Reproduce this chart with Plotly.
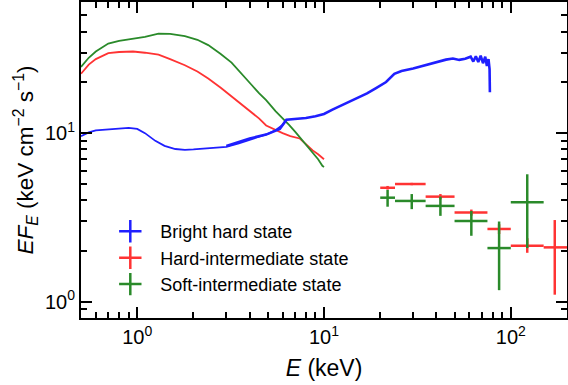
import math
import plotly.graph_objects as go

# ---------------- data ----------------
# Bright hard state: soft X-ray curve
bh_soft_E = [0.50, 0.55, 0.60, 0.70, 0.80, 0.90, 1.00, 1.10, 1.25, 1.40, 1.60, 1.80, 2.0, 2.3, 2.7,
             3.0, 3.5, 4.0, 4.5, 5.0, 5.5, 6.0, 6.3]
bh_soft_F = [9.6, 10.1, 10.4, 10.55, 10.6, 10.75, 10.6, 10.0, 9.0, 8.4, 8.05, 7.95, 8.0, 8.1, 8.2,
             8.3, 8.7, 9.1, 9.5, 9.9, 10.4, 11.2, 12.1]
# Bright hard state: hard X-ray points
bh_hard_E = [3.0, 3.5, 4.0, 4.9, 5.8, 6.3, 7.0, 8.0, 9.0, 10.0, 11.1, 13.0, 15.0, 17.0, 19.0, 21.5,
             23.8, 26.0, 30.0, 35.0, 41.0, 45.0, 49.0, 53.0, 57.0, 61.0, 63.0, 65.0, 67.0, 69.0,
             71.0, 73.0, 74.5, 76.0, 77.0, 77.3]
bh_hard_F = [8.4, 8.9, 9.3, 9.8, 10.6, 12.0, 12.1, 12.3, 12.6, 13.0, 13.8, 15.0, 16.2, 17.2, 18.5, 20.1,
             22.5, 23.4, 24.2, 25.3, 26.6, 27.3, 27.7, 27.2, 27.6, 28.4, 26.6, 28.6, 26.4, 28.8,
             26.0, 28.4, 25.0, 27.5, 24.0, 17.5]

# Hard-intermediate state: soft X-ray curve
hi_soft_E = [0.50, 0.55, 0.60, 0.70, 0.80, 0.95, 1.10, 1.30, 1.50, 1.80, 2.1, 2.4, 2.8, 3.2, 3.6,
             4.1, 4.5, 4.9, 5.5, 6.0, 6.6, 7.4, 8.0, 8.7, 9.3, 9.8, 10.0]
hi_soft_F = [22.5, 25.5, 27.5, 29.8, 30.3, 30.5, 30.0, 29.2, 27.5, 25.3, 23.2, 21.1, 18.6, 16.5, 14.8,
             13.2, 12.2, 11.1, 10.4, 10.0, 9.6, 9.3, 8.6, 7.9, 7.5, 7.1, 7.0]

# Soft-intermediate state: soft X-ray curve
si_soft_E = [0.50, 0.55, 0.60, 0.70, 0.80, 0.95, 1.10, 1.30, 1.50, 1.80, 2.1, 2.4, 2.8, 3.2, 3.6,
             4.1, 4.5, 4.9, 5.5, 6.0, 6.5, 7.0, 7.4, 8.0, 8.7, 9.3, 9.8, 10.0]
si_soft_F = [24.7, 28.0, 30.5, 34.0, 35.3, 36.3, 37.3, 39.0, 38.8, 37.6, 35.8, 33.3, 29.5, 26.2, 22.5,
             19.3, 17.2, 15.7, 13.5, 12.3, 11.2, 10.2, 9.5, 8.6, 7.7, 7.0, 6.4, 6.3]

# Hard X-ray bins (keV)
bin_lo = [20, 24, 35, 50, 75, 100, 150]
bin_hi = [24, 35, 50, 75, 100, 150, 200]
bin_c = [21.9, 29.5, 42.0, 61.5, 86.6, 122.5, 172.0]

hi_hard_F = [4.74, 4.99, 4.20, 3.38, 2.70, 2.15, 2.10]
hi_hard_up = [4.86, 5.07, 4.35, 3.52, 2.88, 2.38, 3.05]
hi_hard_dn = [4.62, 4.91, 4.05, 3.24, 2.52, 1.95, 1.10]

si_hard_F = [4.14, 3.96, 3.70, 3.01, 2.08, 3.89]
si_hard_up = [4.60, 4.35, 4.20, 3.45, 2.99, 5.70]
si_hard_dn = [3.66, 3.54, 3.23, 2.46, 1.17, 2.08]

labels = ["Bright hard state", "Hard-intermediate state", "Soft-intermediate state"]
colors = ["#1f1fff", "#ff3333", "#2a8a2a"]

x_major = [1, 10, 100]
x_major_text = ["10<sup>0</sup>", "10<sup>1</sup>", "10<sup>2</sup>"]
x_minor = [0.5, 0.6, 0.7, 0.8, 0.9, 2, 3, 4, 5, 6, 7, 8, 9, 20, 30, 40, 50, 60, 70, 80, 90, 200]
y_major = [1, 10]
y_major_text = ["10<sup>0</sup>", "10<sup>1</sup>"]
y_minor = [0.8, 0.9, 2, 3, 4, 5, 6, 7, 8, 9, 20, 30, 40, 50, 60]

# ---------------- figure ----------------
fig = go.Figure()

fig.add_trace(go.Scatter(x=hi_soft_E, y=hi_soft_F, mode="lines",
                         line=dict(color=colors[1], width=1.8), showlegend=False))
fig.add_trace(go.Scatter(x=si_soft_E, y=si_soft_F, mode="lines",
                         line=dict(color=colors[2], width=1.8), showlegend=False))
fig.add_trace(go.Scatter(x=bh_soft_E, y=bh_soft_F, mode="lines",
                         line=dict(color=colors[0], width=1.8), showlegend=False))
fig.add_trace(go.Scatter(x=bh_hard_E, y=bh_hard_F, mode="lines",
                         line=dict(color=colors[0], width=2.6), showlegend=False))


def err_trace(c, f, up, dn, lo, hi, color):
    n = len(f)
    return go.Scatter(
        x=c[:n], y=f, mode="markers",
        marker=dict(size=1, color=color, opacity=0),
        error_x=dict(type="data", symmetric=False,
                     array=[hi[i] - c[i] for i in range(n)],
                     arrayminus=[c[i] - lo[i] for i in range(n)],
                     color=color, thickness=2.5, width=0),
        error_y=dict(type="data", symmetric=False,
                     array=[up[i] - f[i] for i in range(n)],
                     arrayminus=[f[i] - dn[i] for i in range(n)],
                     color=color, thickness=2.5, width=0),
        showlegend=False, cliponaxis=True)


fig.add_trace(err_trace(bin_c, hi_hard_F, hi_hard_up, hi_hard_dn, bin_lo, bin_hi, colors[1]))
fig.add_trace(err_trace(bin_c, si_hard_F, si_hard_up, si_hard_dn, bin_lo, bin_hi, colors[2]))

for lab, col in zip(labels, colors):
    fig.add_trace(go.Scatter(x=[None], y=[None], mode="markers", name="\u00a0" + lab,
                             marker=dict(symbol="cross-thin", size=17,
                                         line=dict(color=col, width=2.5))))

axis_common = dict(
    type="log", showline=True, linecolor="black", linewidth=2, mirror="ticks",
    ticks="inside", ticklen=11, tickwidth=2, tickcolor="black",
    showgrid=False, zeroline=False, automargin=False,
    tickfont=dict(family="Liberation Sans", size=20, color="black"),
)

fig.update_layout(
    width=568, height=385,
    margin=dict(l=81, r=1, t=2, b=67),
    paper_bgcolor="white", plot_bgcolor="white",
    font=dict(family="Liberation Sans", color="black"),
    xaxis=dict(axis_common,
               range=[math.log10(0.5), math.log10(200)],
               tickmode="array", tickvals=x_major, ticktext=x_major_text,
               minor=dict(ticks="inside", ticklen=6, tickwidth=2, tickcolor="black",
                          tickmode="array", tickvals=x_minor, showgrid=False),
               title=dict(text="<i>E</i> (keV)", font=dict(size=23), standoff=13)),
    yaxis=dict(axis_common,
               range=[math.log10(0.8), math.log10(60)],
               tickmode="array", tickvals=y_major, ticktext=y_major_text,
               minor=dict(ticks="inside", ticklen=6, tickwidth=2, tickcolor="black",
                          tickmode="array", tickvals=y_minor, showgrid=False),
               title=dict(text="<i>EF</i><sub><i>E</i></sub> (keV cm<sup>\u22122</sup> s<sup>\u22121</sup>)",
                          font=dict(size=22.5), standoff=5)),
    legend=dict(x=0.05, y=0.332, xanchor="left", yanchor="top",
                bgcolor="rgba(0,0,0,0)", font=dict(size=18),
                itemwidth=40, tracegroupgap=0),
)

fig.write_html("out.html",
               config={"displayModeBar": False, "staticPlot": True},
               post_script="document.body.style.margin='0';document.body.style.overflow='hidden';")
